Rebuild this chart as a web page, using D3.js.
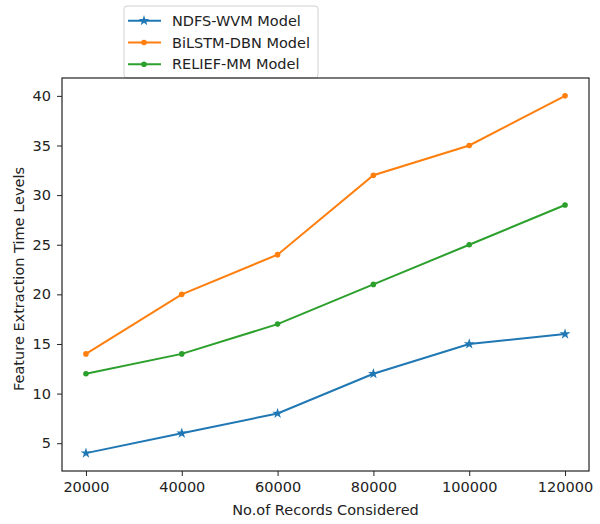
<!DOCTYPE html>
<html>
<head>
<meta charset="utf-8">
<script src="https://cdn.jsdelivr.net/npm/d3@7"></script>
<style>
  body { margin: 0; background: #fff; }
  text { font-family: "DejaVu Sans", sans-serif; fill: #222; }
</style>
</head>
<body>
<div id="chart"></div>
<script>
// data
var records = [20000, 40000, 60000, 80000, 100000, 120000];
var ndfs_wvm = [4, 6, 8, 12, 15, 16];
var bilstm_dbn = [14, 20, 24, 32, 35, 40];
var relief_mm = [12, 14, 17, 21, 25, 29];
var y_ticks = [5, 10, 15, 20, 25, 30, 35, 40];

var series = [
  { name: "NDFS-WVM Model", values: ndfs_wvm, color: "#1f77b4", marker: "star" },
  { name: "BiLSTM-DBN Model", values: bilstm_dbn, color: "#ff7f0e", marker: "dot" },
  { name: "RELIEF-MM Model", values: relief_mm, color: "#2ca02c", marker: "dot" }
];

var width = 600, height = 524;
var margin = { top: 78, right: 11, bottom: 53, left: 62 };
var fontSize = "14.5px";

var svg = d3.select("#chart").append("svg")
  .attr("width", width)
  .attr("height", height);

// matplotlib style 5% padding around the data
var x = d3.scaleLinear()
  .domain([15000, 125000])
  .range([margin.left, width - margin.right]);

var y = d3.scaleLinear()
  .domain([2.2, 41.8])
  .range([height - margin.bottom, margin.top]);

svg.append("g")
  .attr("transform", "translate(0," + (height - margin.bottom) + ")")
  .call(d3.axisBottom(x).tickValues(records).tickFormat(d3.format("d")).tickSizeOuter(0).tickSize(5).tickPadding(6));

svg.append("g")
  .attr("transform", "translate(" + margin.left + ",0)")
  .call(d3.axisLeft(y).tickValues(y_ticks).tickSizeOuter(0).tickSize(5).tickPadding(6));

svg.selectAll(".tick text").style("font-size", fontSize).style("font-family", "DejaVu Sans, sans-serif").attr("fill", "#222");
svg.selectAll(".tick line").attr("stroke", "#222");
svg.selectAll(".domain").remove();

var line = d3.line()
  .x(function (d, i) { return x(records[i]); })
  .y(function (d) { return y(d); });

var g = svg.selectAll(".series")
  .data(series)
  .enter().append("g")
  .attr("class", "series");

g.append("path")
  .attr("d", function (d) { return line(d.values); })
  .attr("fill", "none")
  .attr("stroke", function (d) { return d.color; })
  .attr("stroke-width", 2);

var star = d3.symbol().type(d3.symbolStar).size(36);

g.each(function (s) {
  var sel = d3.select(this).selectAll(".pt")
    .data(s.values)
    .enter();
  if (s.marker == "star") {
    sel.append("path")
      .attr("d", star)
      .attr("transform", function (d, i) { return "translate(" + x(records[i]) + "," + y(d) + ")"; })
      .attr("fill", s.color);
  } else {
    sel.append("circle")
      .attr("cx", function (d, i) { return x(records[i]); })
      .attr("cy", function (d) { return y(d); })
      .attr("r", 2.8)
      .attr("fill", s.color);
  }
});

// legend, sitting above the axes
var legend = svg.append("g").attr("transform", "translate(124,6)");
legend.append("rect")
  .attr("width", 194)
  .attr("height", 72)
  .attr("rx", 3)
  .attr("fill", "#fff")
  .attr("fill-opacity", 0.85)
  .attr("stroke", "#d0d0d0");

var item = legend.selectAll(".item")
  .data(series)
  .enter().append("g")
  .attr("transform", function (d, i) { return "translate(0," + (14.7 + i * 21.8) + ")"; });

item.append("line")
  .attr("x1", 4).attr("x2", 37)
  .attr("stroke", function (d) { return d.color; })
  .attr("stroke-width", 2);

item.each(function (s) {
  if (s.marker == "star") {
    d3.select(this).append("path").attr("d", star).attr("transform", "translate(20,0)").attr("fill", s.color);
  } else {
    d3.select(this).append("circle").attr("cx", 20).attr("r", 2.8).attr("fill", s.color);
  }
});

item.append("text")
  .attr("x", 48)
  .attr("dy", "0.35em")
  .style("font-size", fontSize)
  .text(function (d) { return d.name; });

// frame
svg.append("rect")
  .attr("x", margin.left)
  .attr("y", margin.top)
  .attr("width", width - margin.left - margin.right)
  .attr("height", height - margin.top - margin.bottom)
  .attr("fill", "none")
  .attr("stroke", "#222")
  .attr("stroke-width", 1.2);

svg.append("text")
  .attr("x", (margin.left + width - margin.right) / 2)
  .attr("y", 515)
  .attr("text-anchor", "middle")
  .style("font-size", fontSize)
  .text("No.of Records Considered");

svg.append("text")
  .attr("transform", "translate(24,279) rotate(-90)")
  .attr("text-anchor", "middle")
  .style("font-size", fontSize)
  .text("Feature Extraction Time Levels");
</script>
</body>
</html>
